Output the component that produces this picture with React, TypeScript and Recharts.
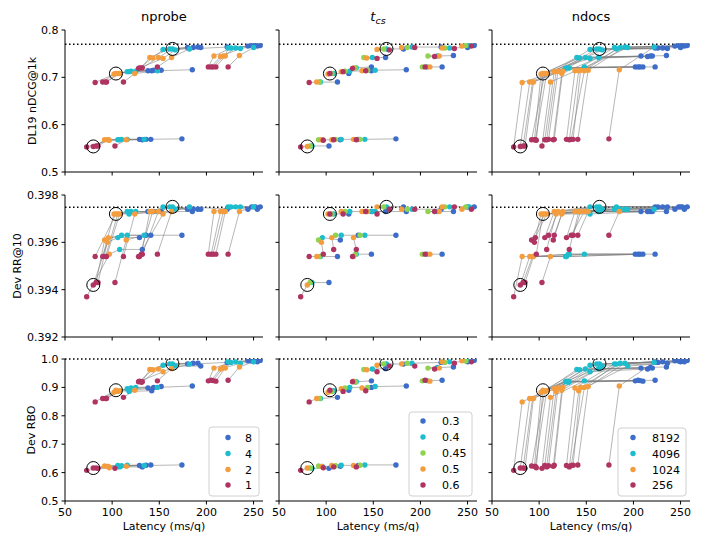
import React from 'react';
import { ScatterChart, Scatter, XAxis, YAxis, ReferenceLine } from 'recharts';

const nprobeValues = [1, 2, 4, 8];
const tcsValues = [0.3, 0.4, 0.45, 0.5, 0.6];
const ndocsValues = [256, 1024, 4096, 8192];

// rows = nprobe (1, 2, 4, 8), columns = t_cs (0.3, 0.4, 0.45, 0.5, 0.6)
const latency256 = [
  [103, 85, 83, 80, 73],
  [115, 96, 92, 95, 97],
  [134, 116, 110, 106, 108],
  [174, 141, 136, 129, 132],
];
const latency1024 = [
  [112, 94, 93, 90, 82],
  [124, 108, 106, 102, 104],
  [148, 125, 120, 116, 118],
  [185, 152, 144, 138, 142],
];
const latency4096 = [
  [148, 132, 131, 129, 128],
  [163, 149, 140, 143, 154],
  [182, 164, 161, 154, 167],
  [222, 191, 186, 180, 194],
];
const latency8192 = [
  [223, 207, 202, 210, 205],
  [235, 218, 208, 220, 215],
  [250, 231, 226, 223, 236],
  [257, 252, 248, 244, 254],
];

const ndcg256 = [
  [0.555, 0.555, 0.555, 0.554, 0.553],
  [0.568, 0.568, 0.568, 0.568, 0.567],
  [0.569, 0.569, 0.569, 0.568, 0.568],
  [0.570, 0.569, 0.569, 0.569, 0.568],
];
const ndcg1024 = [
  [0.690, 0.690, 0.690, 0.690, 0.689],
  [0.708, 0.708, 0.708, 0.707, 0.708],
  [0.714, 0.713, 0.713, 0.712, 0.712],
  [0.716, 0.715, 0.715, 0.714, 0.714],
];
const ndcg4096 = [
  [0.722, 0.720, 0.720, 0.720, 0.719],
  [0.742, 0.742, 0.742, 0.741, 0.740],
  [0.760, 0.760, 0.760, 0.759, 0.758],
  [0.764, 0.764, 0.763, 0.763, 0.763],
];
const ndcg8192 = [
  [0.722, 0.722, 0.722, 0.722, 0.722],
  [0.746, 0.745, 0.745, 0.745, 0.744],
  [0.763, 0.762, 0.762, 0.762, 0.761],
  [0.767, 0.767, 0.767, 0.766, 0.766],
];

const rr256 = [
  [0.3943, 0.3943, 0.3943, 0.3942, 0.3937],
  [0.3961, 0.3962, 0.3961, 0.3960, 0.3955],
  [0.3963, 0.3963, 0.3963, 0.3962, 0.3957],
  [0.3963, 0.3963, 0.3963, 0.3962, 0.3957],
];
const rr1024 = [
  [0.3954, 0.3954, 0.3954, 0.3954, 0.3954],
  [0.3972, 0.3972, 0.3972, 0.3972, 0.3972],
  [0.3973, 0.3973, 0.3973, 0.3973, 0.3972],
  [0.3973, 0.3973, 0.3973, 0.3973, 0.3973],
];
const rr4096 = [
  [0.3955, 0.3955, 0.3955, 0.3954, 0.3954],
  [0.3973, 0.3973, 0.3973, 0.3973, 0.3972],
  [0.3975, 0.3975, 0.3975, 0.3975, 0.3974],
  [0.3974, 0.3974, 0.3974, 0.3974, 0.3974],
];
const rr8192 = [
  [0.3955, 0.3955, 0.3955, 0.3955, 0.3955],
  [0.3973, 0.3973, 0.3973, 0.3973, 0.3973],
  [0.3975, 0.3975, 0.3975, 0.3975, 0.3975],
  [0.3975, 0.3975, 0.3975, 0.3974, 0.3974],
];

const rbo256 = [
  [0.615, 0.615, 0.616, 0.616, 0.608],
  [0.622, 0.622, 0.623, 0.622, 0.617],
  [0.625, 0.626, 0.624, 0.625, 0.620],
  [0.627, 0.627, 0.626, 0.625, 0.620],
];
const rbo1024 = [
  [0.865, 0.861, 0.861, 0.861, 0.849],
  [0.890, 0.888, 0.886, 0.883, 0.890],
  [0.900, 0.900, 0.898, 0.895, 0.886],
  [0.905, 0.903, 0.900, 0.898, 0.888],
];
const rbo4096 = [
  [0.923, 0.920, 0.918, 0.922, 0.920],
  [0.966, 0.965, 0.963, 0.962, 0.955],
  [0.982, 0.983, 0.983, 0.978, 0.975],
  [0.988, 0.985, 0.985, 0.983, 0.975],
];
const rbo8192 = [
  [0.925, 0.924, 0.923, 0.922, 0.925],
  [0.972, 0.970, 0.968, 0.968, 0.965],
  [0.990, 0.990, 0.988, 0.990, 0.985],
  [0.995, 0.995, 0.993, 0.994, 0.990],
];

const latencyByDocs = [latency256, latency1024, latency4096, latency8192];
const ndcgByDocs = [ndcg256, ndcg1024, ndcg4096, ndcg8192];
const rrByDocs = [rr256, rr1024, rr4096, rr8192];
const rboByDocs = [rbo256, rbo1024, rbo4096, rbo8192];

// circled configurations
const highlighted = [
  { n: 1, t: 0.5, d: 256 },
  { n: 2, t: 0.6, d: 1024 },
  { n: 4, t: 0.4, d: 4096 },
];

const xTicks = [50, 100, 150, 200, 250];

type Pt = { n: number; t: number; d: number; lat: number; ndcg: number; rr: number; rbo: number };

const points: Pt[] = [];
ndocsValues.forEach((d, di) =>
  nprobeValues.forEach((n, ni) =>
    tcsValues.forEach((t, ti) =>
      points.push({
        n, t, d,
        lat: latencyByDocs[di][ni][ti],
        ndcg: ndcgByDocs[di][ni][ti],
        rr: rrByDocs[di][ni][ti],
        rbo: rboByDocs[di][ni][ti],
      })
    )
  )
);

const highlightPts = highlighted.map(h => points.find(p => p.n === h.n && p.t === h.t && p.d === h.d)!);

const BLUE = '#3d6dc8';
const CYAN = '#1dbdcd';
const GREEN = '#90d34f';
const ORANGE = '#f49d3e';
const RED = '#b03462';

const columns = [
  { key: 'n', order: [8, 4, 2, 1], colors: [BLUE, CYAN, ORANGE, RED], labels: ['8', '4', '2', '1'] },
  { key: 't', order: [0.3, 0.4, 0.45, 0.5, 0.6], colors: [BLUE, CYAN, GREEN, ORANGE, RED], labels: ['0.3', '0.4', '0.45', '0.5', '0.6'] },
  { key: 'd', order: [8192, 4096, 1024, 256], colors: [BLUE, CYAN, ORANGE, RED], labels: ['8192', '4096', '1024', '256'] },
] as const;

const rows = [
  { key: 'ndcg', domain: [0.5, 0.8], ticks: [0.5, 0.6, 0.7, 0.8], digits: 1, ref: 0.7697, label: 'DL19 nDCG@1k', labelX: 36 },
  { key: 'rr', domain: [0.392, 0.398], ticks: [0.392, 0.394, 0.396, 0.398], digits: 3, ref: 0.39748, label: 'Dev RR@10', labelX: 21 },
  { key: 'rbo', domain: [0.5, 1.0], ticks: [0.5, 0.6, 0.7, 0.8, 0.9, 1.0], digits: 1, ref: 1.0, label: 'Dev RBO', labelX: 35 },
];

const colLefts = [65, 279, 492];
const rowTops = [30, 195, 359];
const FRAME_W = 198;
const FRAME_H = 142;

// lines join the points that differ only in the coloured parameter
function lineGroups(key: string): Pt[][] {
  const map = new Map<string, Pt[]>();
  points.forEach(p => {
    const k = ['n', 't', 'd'].filter(x => x !== key).map(x => (p as any)[x]).join('|');
    if (!map.has(k)) map.set(k, []);
    map.get(k)!.push(p);
  });
  return Array.from(map.values()).map(g => [...g].sort((a, b) => (a as any)[key] - (b as any)[key]));
}

const tickStyle = { fontSize: 11, fill: '#000', fontFamily: 'DejaVu Sans' };
const noShape = () => <g />;
const dot = (color: string) => (props: any) => <circle cx={props.cx} cy={props.cy} r={2.7} fill={color} />;
const ring = (props: any) => <circle cx={props.cx} cy={props.cy} r={6.5} fill="none" stroke="#000" strokeWidth={1} />;

function Panel({ ri, ci }: { ri: number; ci: number }) {
  const row = rows[ri];
  const col = columns[ci];
  const groups = lineGroups(col.key);
  return (
    <div style={{ position: 'absolute', left: colLefts[ci] - 60, top: rowTops[ri] - 8 }}>
      <ScatterChart width={60 + FRAME_W + 8} height={8 + FRAME_H + 30} margin={{ top: 8, right: 8, bottom: 0, left: 0 }}>
        <XAxis
          type="number" dataKey="lat" domain={[50, 260]} ticks={xTicks} allowDataOverflow interval={0}
          height={30} tickSize={3.5} tickMargin={4} tick={tickStyle}
          tickFormatter={(v: number) => (ri === 2 ? String(v) : '')}
          axisLine={{ stroke: '#000' }} tickLine={{ stroke: '#000' }}
        />
        <XAxis xAxisId="frame" orientation="top" type="number" domain={[0, 1]} height={0} tick={false} tickLine={false} axisLine={{ stroke: '#000' }} />
        <YAxis
          type="number" dataKey={row.key} domain={row.domain as [number, number]} ticks={row.ticks} allowDataOverflow interval={0}
          width={60} tickSize={3.5} tickMargin={3} tick={tickStyle}
          tickFormatter={(v: number) => (ci === 0 ? v.toFixed(row.digits) : '')}
          axisLine={{ stroke: '#000' }} tickLine={{ stroke: '#000' }}
        />
        <YAxis yAxisId="frame" orientation="right" type="number" domain={[0, 1]} width={0} tick={false} tickLine={false} axisLine={{ stroke: '#000' }} />
        <ReferenceLine y={row.ref} stroke="#000" strokeWidth={1.5} strokeDasharray="1.5 2.5" />
        {groups.map((g, i) => (
          <Scatter
            key={'l' + i} data={g} shape={noShape} legendType="none" isAnimationActive={false}
            line={{ stroke: '#7a7a7a', strokeWidth: 1, strokeOpacity: 0.55 }}
          />
        ))}
        {col.order.map((v, i) => (
          <Scatter
            key={'p' + v} data={points.filter(p => (p as any)[col.key] === v)}
            shape={dot(col.colors[i])} isAnimationActive={false}
          />
        ))}
        <Scatter data={highlightPts} shape={ring} isAnimationActive={false} />
      </ScatterChart>
    </div>
  );
}

const legendBoxes = [
  { x: 209, y: 427, w: 50, h: 69, dotX: 228, textX: 245, rows: [437.5, 453.5, 469.5, 485] },
  { x: 409, y: 412, w: 63, h: 84, dotX: 423, textX: 442, rows: [421, 437, 453, 469, 485] },
  { x: 618, y: 428, w: 68, h: 68, dotX: 633, textX: 652, rows: [437.5, 453.5, 469.5, 485] },
];

export default function App() {
  return (
    <div style={{ position: 'absolute', left: 0, top: 0, width: 702, height: 546, background: '#fff', fontFamily: 'DejaVu Sans' }}>
      {rows.map((_, ri) => columns.map((__, ci) => <Panel key={ri + '-' + ci} ri={ri} ci={ci} />))}
      <svg width={702} height={546} style={{ position: 'absolute', left: 0, top: 0, pointerEvents: 'none' }} fontFamily="DejaVu Sans">
        <text x={colLefts[0] + FRAME_W / 2} y={21} textAnchor="middle" fontSize={13}>nprobe</text>
        <text x={colLefts[1] + FRAME_W / 2} y={21} textAnchor="middle" fontSize={13}>
          <tspan fontStyle="italic">t</tspan>
          <tspan fontStyle="italic" fontSize={9.5} dy={3}>cs</tspan>
        </text>
        <text x={colLefts[2] + FRAME_W / 2} y={21} textAnchor="middle" fontSize={13}>ndocs</text>
        {rows.map((r, ri) => (
          <text key={r.key} x={r.labelX} y={rowTops[ri] + FRAME_H / 2} textAnchor="middle" fontSize={11}
            transform={`rotate(-90 ${r.labelX} ${rowTops[ri] + FRAME_H / 2})`}>{r.label}</text>
        ))}
        {colLefts.map(l => (
          <text key={l} x={l + FRAME_W / 2} y={530} textAnchor="middle" fontSize={11}>Latency (ms/q)</text>
        ))}
        {legendBoxes.map((b, bi) => (
          <g key={bi}>
            <rect x={b.x} y={b.y} width={b.w} height={b.h} rx={3} fill="#fff" fillOpacity={0.8} stroke="#d0d0d0" strokeWidth={1} />
            {b.rows.map((y, i) => (
              <g key={i}>
                <circle cx={b.dotX} cy={y} r={2.7} fill={columns[bi].colors[i]} />
                <text x={b.textX} y={y + 4} fontSize={11}>{columns[bi].labels[i]}</text>
              </g>
            ))}
          </g>
        ))}
      </svg>
    </div>
  );
}
